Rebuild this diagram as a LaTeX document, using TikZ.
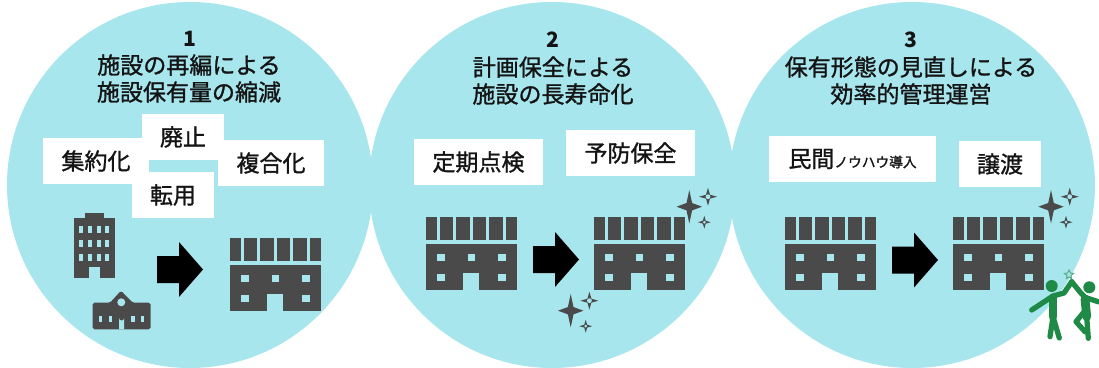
\documentclass[tikz,border=0pt]{standalone}
\usepackage{fontspec}
\newfontfamily\jpfont[FakeBold=1.2]{Noto Sans CJK JP}
\newfontfamily\numfont{Noto Sans CJK JP}
\definecolor{discblue}{HTML}{A8E6EE}
\definecolor{bldgrey}{HTML}{4A4A4A}
\definecolor{figgreen}{HTML}{1E8A45}
\definecolor{inkblack}{HTML}{141414}

\newcommand{\fourstar}[4]{%
  \fill[bldgrey, shift={(#1,#2)}] (0,-#4) -- (0.22*#3,-0.22*#4) -- (#3,0) -- (0.22*#3,0.22*#4)
    -- (0,#4) -- (-0.22*#3,0.22*#4) -- (-#3,0) -- (-0.22*#3,-0.22*#4) -- cycle;}

\tikzset{
  disc/.style={fill=discblue, draw=none},
  labelbox/.style={fill=white, inner sep=0pt, minimum height=0.92cm, font=\jpfont\fontsize{13.1pt}{15pt}\selectfont, text=inkblack},
  titletext/.style={inner sep=0pt, font=\jpfont\fontsize{13.1pt}{15pt}\selectfont, text=inkblack},
  numtext/.style={inner sep=0pt, font=\numfont\bfseries\fontsize{12pt}{14pt}\selectfont, text=inkblack},
  limb/.style={draw=figgreen, line width=3pt, line cap=round, line join=round},
  torso/.style={draw=figgreen, line width=5pt, line cap=round, line join=round},
  longblock/.pic={
    \fill[bldgrey] (0,0) rectangle (11.3,23);
    \fill[bldgrey] (14,0) rectangle (27.3,23);
    \fill[bldgrey] (30.3,0) rectangle (44.3,23);
    \fill[bldgrey] (47,0) rectangle (60.3,23);
    \fill[bldgrey] (63.3,0) rectangle (76.7,23);
    \fill[bldgrey] (79.7,0) rectangle (91,23);
    \fill[bldgrey] (0,27) rectangle (91,73);
    \foreach \wx in {11.3,42,72.3}
      \fill[discblue] (\wx,37) rectangle ++(7.2,7);
    \foreach \wx in {11.3,72.3}
      \fill[discblue] (\wx,56.5) rectangle ++(7.2,7.5);
    \fill[discblue] (37,56) rectangle (53,73);
  },
  blockarrow/.pic={
    \fill[black] (0,-13.5) -- (22,-13.5) -- (22,-27.5) -- (46,0) -- (22,27.5) -- (22,13.5) -- (0,13.5) -- cycle;
  },
  sparkle/.pic={
    \fourstar{0}{0}{12.7}{16.7}
    \fourstar{18.7}{-10}{9}{9}
    \fourstar{15}{15.5}{6.5}{6.5}
    \fill[discblue] (18.7,-10) circle (2.4);
    \fill[discblue] (15,15.5) circle (1.5);
  }
}

\begin{document}
\begin{tikzpicture}[x=0.02cm, y=-0.02cm]
  \useasboundingbox (0,0) rectangle (1099,368);

  \fill[disc] (190,185) circle (183);
  \fill[disc] (552,185) circle (183);
  \fill[disc] (912,185) circle (183);

  \node[numtext] (num1) at (190,39) {1};
  \node[titletext] (head1a) at (189,65) {施設の再編による};
  \node[titletext] (head1b) at (189,92) {施設保有量の縮減};
  \node[numtext] (num2) at (553,40) {2};
  \node[titletext] (head2a) at (553,67) {計画保全による};
  \node[titletext] (head2b) at (553,94) {施設の長寿命化};
  \node[numtext] (num3) at (911,40) {3};
  \node[titletext] (head3a) at (911,67) {保有形態の見直しによる};
  \node[titletext] (head3b) at (911,94) {効率的管理運営};

  \node[labelbox, minimum width=2.12cm] (gather) at (96,161) {集約化};
  \node[labelbox, minimum width=1.64cm] (abolish) at (183,137) {廃止};
  \node[labelbox, minimum width=2.12cm] (combine) at (271,163) {複合化};
  \node[labelbox, minimum width=1.64cm] (convert) at (173,195) {転用};
  \node[labelbox, minimum width=2.58cm] (inspect) at (478.5,162) {定期点検};
  \node[labelbox, minimum width=2.58cm] (prevent) at (630.5,153) {予防保全};
  \node[labelbox, minimum width=3.34cm] (private) at (852.5,159) {民間{\fontsize{7.8pt}{9pt}\selectfont ノウハウ導入}};
  \node[labelbox, minimum width=1.64cm] (transfer) at (1000,164) {譲渡};

  \fill[bldgrey] (85,213) rectangle (104,219);
  \fill[bldgrey] (74,218) rectangle (114.7,277.7);
  \foreach \wx in {79,87.7,96.5,105}
    \foreach \wy in {225.7,239.7,253.7}
      \fill[discblue] (\wx,\wy) rectangle ++(4.3,7);
  \fill[discblue] (89,267) rectangle (100,277.7);

  \fill[bldgrey, rounded corners=1pt] (92.7,329.3) -- (92.7,302.7) -- (110,302.7) -- (121,290.7) -- (132.7,302.7) -- (150.7,302.7) -- (150.7,329.3) -- cycle;
  \fill[discblue] (121.3,302.3) circle (4);
  \foreach \wx in {98.7,108.7,131.3,141}
    \fill[discblue] (\wx,315.7) rectangle ++(3.4,6);
  \fill[discblue] (119,329.3) -- (119,318) arc (180:0:2.6) -- (124.2,329.3) -- cycle;

  \pic at (230,238) {longblock};
  \pic at (426,217) {longblock};
  \pic at (594,217) {longblock};
  \pic at (785,217) {longblock};
  \pic at (953,217) {longblock};

  \pic at (157,269.5) {blockarrow};
  \pic at (533,259.5) {blockarrow};
  \pic at (892,260) {blockarrow};

  \pic at (689.3,206.7) {sparkle};
  \pic at (570.7,310.7) {sparkle};
  \pic at (1051,206.7) {sparkle};

  \fill[figgreen] (1051.7,286) circle (6);
  \draw[limb] (1031.7,310) -- (1053,296) -- (1064,293) -- (1071.7,281.7);
  \draw[torso] (1053,298) -- (1053,316.7);
  \draw[limb] (1053,316.7) -- (1059.3,338);
  \draw[limb] (1053,316.7) -- (1050,336.7);
  \fill[figgreen] (1089.3,287.3) circle (6);
  \draw[limb] (1071.7,281.7) -- (1080,292) -- (1085,297.3) -- (1099,302);
  \draw[torso] (1085,299) -- (1086.7,316.7);
  \draw[limb] (1086.7,316.7) -- (1088.3,338.3);
  \draw[limb] (1084,312) -- (1076,321.7) -- (1085,331.7);
  \draw[draw=figgreen!60!discblue, line width=0.6pt] (1069,270) -- (1070.5,273) -- (1073.5,273.5) -- (1071,275.5) -- (1071.5,278.5) -- (1069,277) -- (1066.5,278.5) -- (1067,275.5) -- (1064.5,273.5) -- (1067.5,273) -- cycle;
\end{tikzpicture}
\end{document}
